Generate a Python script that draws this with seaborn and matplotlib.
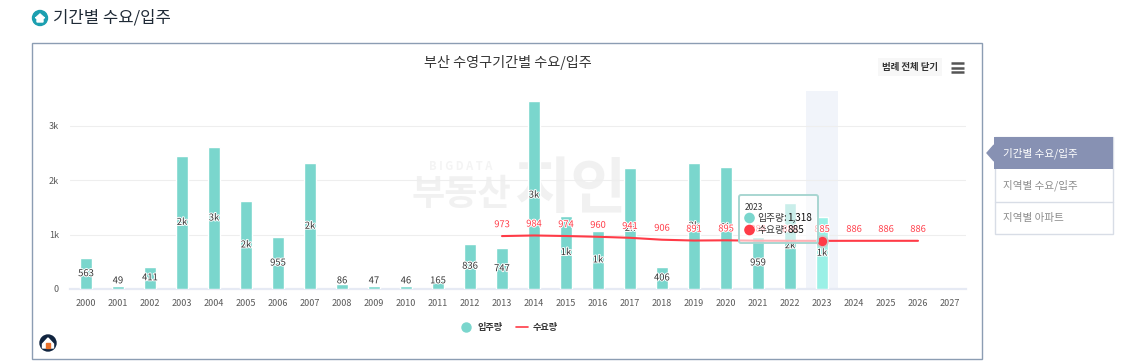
import matplotlib
matplotlib.use("Agg")
import matplotlib.pyplot as plt
import matplotlib.patheffects as pe
from matplotlib.lines import Line2D
from matplotlib.patches import Circle, FancyBboxPatch, Polygon, Rectangle
import seaborn as sns
import pandas as pd

# 값은 그림에서 읽음
years = [str(y) for y in range(2000, 2028)]
supply = [563, 49, 411, 2450, 2610, 1620, 955, 2310, 86, 47, 46, 165, 836, 747,
          3450, 1340, 1070, 2230, 406, 2310, 2250, 959, 1590, 1318, None, None, None, None]
demand_years = [str(y) for y in range(2013, 2027)]
demand = [973, 984, 974, 960, 941, 906, 891, 895, 888, 886, 885, 886, 886, 886]
y_ticks = [0, 1000, 2000, 3000]
y_tick_labels = ["0", "1k", "2k", "3k"]
focus_year = "2023"
menu_items = ["기간별 수요/입주", "지역별 수요/입주", "지역별 아파트"]

W, H = 1130, 362
TEAL = "#7ad6cd"
RED = "#ff3b47"

sns.set_theme(style="white")
plt.rcParams["font.family"] = ["Noto Sans CJK KR", "DejaVu Sans"]

fig = plt.figure(figsize=(W / 100, H / 100), dpi=100, facecolor="white")


def px_axes(zorder):
    a = fig.add_axes([0, 0, 1, 1], zorder=zorder)
    a.set_xlim(0, W)
    a.set_ylim(H, 0)
    a.axis("off")
    a.patch.set_alpha(0)
    return a


# 배경: 제목, 테두리, 워터마크, 사이드 메뉴
bg = px_axes(0)
bg.add_patch(Circle((40, 18), 7.5, color="#1b9fb0"))
bg.add_patch(Polygon([(35.5, 18), (40, 14), (44.5, 18), (43, 18), (43, 22), (37, 22), (37, 18)], color="white"))
bg.text(53, 18, "기간별 수요/입주", fontsize=12, color="#1f2a36", va="center")
bg.add_patch(Rectangle((31.5, 42.5), 950, 316, fc="white", ec="#8c9db3", lw=1))
bg.text(507.5, 63, "부산 수영구기간별 수요/입주", fontsize=10.2, color="#333333", ha="center", va="center")
bg.add_patch(Rectangle((878, 58), 64, 18, fc="#f7f7f7", ec="none"))
bg.text(910.5, 67, "범례 전체 닫기", fontsize=6.8, color="#333333", ha="center", va="center", fontweight="bold")
for yy in (63, 67.5, 72):
    bg.plot([951, 964], [yy, yy], color="#555555", lw=1.8, solid_capstyle="butt")

bg.text(461, 167, "B I G D A T A", fontsize=8, color="#f4f4f4", ha="center", va="center", fontweight="bold")
bg.text(461, 195, "부동산", fontsize=26, color="#f1f1f1", ha="center", va="center", fontweight="bold")
bg.text(570, 190, "지인", fontsize=44, color="#f1f1f1", ha="center", va="center", fontweight="bold")

bg.add_patch(Rectangle((994.5, 137), 118, 97, fc="white", ec="#d8dde6", lw=1))
bg.plot([994.5, 1112.5], [201.5, 201.5], color="#d8dde6", lw=1)
bg.add_patch(Rectangle((994, 136.5), 119, 32.5, fc="#8791b3", ec="none"))
bg.add_patch(Polygon([(994, 145), (987, 153), (994, 161)], color="#8791b3"))
for label, yy, col in zip(menu_items, (153, 185.5, 218), ("white", "#8c8c8c", "#8c8c8c")):
    bg.text(1003, yy, label, fontsize=7.6, color=col, va="center")

bg.add_patch(Circle((48, 343), 8, color="#10243f"))
bg.add_patch(Polygon([(42.5, 344), (48, 338), (53.5, 344), (53.5, 348), (42.5, 348)], color="white"))
bg.add_patch(Rectangle((46, 343), 4, 5, color="#e8702a"))

# 차트 영역: x 70~966, y 91~289 px
ax = fig.add_axes([70 / W, 1 - 289 / H, 896 / W, 198 / H], zorder=1)
ax.patch.set_alpha(0)

df = pd.DataFrame({"year": years, "supply": supply})
sns.barplot(data=df, x="year", y="supply", color=TEAL, saturation=1, width=0.4,
            ax=ax, order=years, zorder=3)
focus = years.index(focus_year)
ax.patches[focus].set_facecolor("#9af0e6")
ax.axvspan(focus - 0.5, focus + 0.5, color="#f1f4fa", zorder=0, lw=0)

ax.set_xlim(-0.5, len(years) - 0.5)
ax.set_ylim(0, 3640)
ax.set_yticks(y_ticks, y_tick_labels)
ax.set_xlabel("")
ax.set_ylabel("")
ax.tick_params(axis="both", length=0, labelsize=6.5, labelcolor="#5a5a5a")
ax.tick_params(axis="x", pad=7)
ax.tick_params(axis="y", pad=8)
for t in y_ticks[1:]:
    ax.axhline(t, color="#eeeeee", lw=0.8, zorder=1)
sns.despine(ax=ax, left=True)
ax.spines["bottom"].set_color("#e6eaf4")
ax.spines["bottom"].set_linewidth(1.6)

halo = [pe.withStroke(linewidth=1.4, foreground="white")]
for i, v in enumerate(supply):
    if v is None:
        continue
    txt = f"{round(v / 1000)}k" if v >= 1000 else str(v)
    ax.text(i, max(v / 2, 150), txt, fontsize=6.8, color="#333333", ha="center", va="center",
            path_effects=halo, zorder=5)

line_df = pd.DataFrame({"pos": [years.index(y) for y in demand_years], "demand": demand})
sns.lineplot(data=line_df, x="pos", y="demand", color=RED, lw=1.5, ax=ax, zorder=6)
ax.set_xlabel("")
ax.set_ylabel("")
for p, v in zip(line_df["pos"], line_df["demand"]):
    ax.annotate(str(v), (p, v), xytext=(0, 8.2), textcoords="offset points", fontsize=6.7,
                color=RED, ha="center", va="center", fontweight="medium", path_effects=halo, zorder=7)

focus_demand = line_df[line_df["pos"] == focus]
sns.scatterplot(data=focus_demand, x="pos", y="demand", s=62, color=RED, edgecolor="#c8c8c8",
                linewidth=1.2, ax=ax, zorder=8, legend=False)
ax.set_xlabel("")
ax.set_ylabel("")

# 범례
handles = [Line2D([], [], marker="o", ls="", ms=6.5, color=TEAL, label="입주량"),
           Line2D([], [], color=RED, lw=1.2, label="수요량")]
fig.legend(handles=handles, loc="center", bbox_to_anchor=(509 / W, 1 - 327.5 / H), ncol=2, frameon=False,
           prop={"size": 6.6, "weight": "bold"}, labelcolor="#333333", handlelength=1.3,
           columnspacing=1.5, handletextpad=0.5, borderpad=0)

# 툴팁
top = px_axes(3)
top.add_patch(FancyBboxPatch((739, 195), 79, 48, boxstyle="round,pad=0,rounding_size=2",
                             fc=(1, 1, 1, 0.6), ec="#a8d6d1", lw=1.4))
top.text(745, 207, focus_year, fontsize=6, color="#333333", va="center")
top.add_patch(Circle((749.5, 218), 4.6, color=TEAL))
top.text(757, 218, "입주량:", fontsize=7, color="#333333", va="center")
top.text(787, 218, f"{supply[focus]:,}", fontsize=7.2, color="#111111", va="center", fontweight="medium")
top.add_patch(Circle((749.5, 230), 4.6, color=RED))
top.text(757, 230, "수요량:", fontsize=7, color="#333333", va="center")
top.text(787, 230, str(demand[demand_years.index(focus_year)]), fontsize=7.2, color="#111111", va="center",
         fontweight="medium")

fig.savefig("out.png", dpi=100)
